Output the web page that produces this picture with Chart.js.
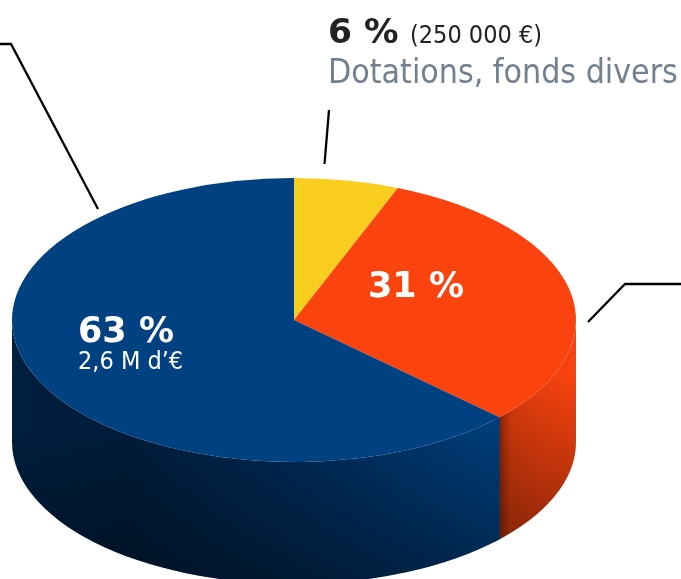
<!DOCTYPE html>
<html><head><meta charset="utf-8">
<style>html,body{margin:0;padding:0;background:#fff}#w{width:681px;height:579px;position:relative}canvas{display:block}</style>
<script src="https://cdn.jsdelivr.net/npm/chart.js@4/dist/chart.umd.min.js"></script>
</head><body><div id="w"><canvas id="c" width="681" height="579"></canvas></div>
<script>
const categories = ['Dotations, fonds divers', 'Part 31', 'Part 63'];
const shares = [6, 31, 63];
const sliceColors = ['#f9ce1f', '#fb430f', '#004182'];
const shareLabels = ['6 %', '31 %', '63 %'];
const amountLabels = ['(250 000 €)', '2,6 M d’€'];

const CENTER_Y = 320, SQUASH = 142 / 282, DEPTH = 122;
const FONT = '"DejaVu Sans", Verdana, sans-serif';
const FONT_NARROW = '"DejaVu Sans Condensed", "DejaVu Sans", sans-serif';

function sidePath(ctx, arc, a0, a1, ry) {
  ctx.beginPath();
  ctx.ellipse(arc.x, CENTER_Y, arc.outerRadius, ry, 0, a0, a1, false);
  ctx.ellipse(arc.x, CENTER_Y + DEPTH, arc.outerRadius, ry, 0, a1, a0, true);
  ctx.closePath();
}
function grad(ctx, x0, y0, x1, y1, stops) {
  const g = ctx.createLinearGradient(x0, y0, x1, y1);
  stops.forEach(s => g.addColorStop(s[0], s[1]));
  return g;
}
const pie3d = {
  id: 'pie3d',
  beforeDatasetsDraw(chart) {
    const ctx = chart.ctx;
    const arcs = chart.getDatasetMeta(0).data;
    const orange = arcs[1].getProps(['x','y','startAngle','endAngle','outerRadius'], true);
    const blue = arcs[2].getProps(['x','y','startAngle','endAngle','outerRadius'], true);
    const ry = orange.outerRadius * SQUASH;
    // orange wall (runs slightly under the blue wall so no seam shows)
    ctx.save();
    sidePath(ctx, orange, 0, orange.endAngle + 0.03, ry);
    ctx.clip();
    ctx.fillStyle = grad(ctx, 499, 0, 576, 0, [[0,'#d63b0c'],[0.5,'#ee400e'],[1,'#f9430f']]);
    ctx.fillRect(480, 300, 110, 279);
    ctx.fillStyle = grad(ctx, 0, 375, 0, 530, [[0,'rgba(0,0,0,0)'],[1,'rgba(0,0,0,0.36)']]);
    ctx.fillRect(480, 300, 110, 279);
    ctx.fillStyle = grad(ctx, 499, 0, 510, 0, [[0,'rgba(40,10,0,0.42)'],[1,'rgba(40,10,0,0)']]);
    ctx.fillRect(495, 300, 16, 279);
    ctx.restore();
    // blue wall
    ctx.save();
    sidePath(ctx, blue, blue.startAngle, Math.PI, ry);
    ctx.clip();
    ctx.fillStyle = grad(ctx, 12, 0, 499, 0, [[0,'#001e3d'],[0.25,'#001c3a'],[0.6,'#002a56'],[1,'#003d7a']]);
    ctx.fillRect(0, 300, 510, 279);
    ctx.fillStyle = grad(ctx, 0, 430, 0, 579, [[0,'rgba(0,0,0,0)'],[1,'rgba(0,0,0,0.38)']]);
    ctx.fillRect(0, 300, 510, 279);
    ctx.restore();
    // squash the library's round pie into the top face
    const cy = blue.y;
    ctx.save();
    ctx.translate(0, CENTER_Y);
    ctx.scale(1, SQUASH);
    ctx.translate(0, -cy);
  },
  afterDatasetsDraw(chart) {
    const ctx = chart.ctx;
    ctx.restore();
    // leader lines
    ctx.strokeStyle = '#000';
    ctx.lineWidth = 2.3;
    ctx.lineJoin = 'miter';
    [[[0,44],[11,44],[98,209]], [[329,110],[324.5,164]], [[588,322],[625,284],[681,284]]].forEach(l => {
      ctx.beginPath();
      l.forEach((p, i) => i ? ctx.lineTo(p[0], p[1]) : ctx.moveTo(p[0], p[1]));
      ctx.stroke();
    });
    // labels
    ctx.textBaseline = 'alphabetic';
    ctx.textAlign = 'left';
    const t = (s, x, y, font, fam, col) => { ctx.font = font + ' ' + fam; ctx.fillStyle = col; ctx.fillText(s, x, y); };
    t(shareLabels[0], 328, 43, 'bold 34.5px', FONT, '#222222');
    t(amountLabels[0], 410, 43, '25px', FONT_NARROW, '#222222');
    t(categories[0], 328, 83, '33.6px', FONT_NARROW, '#72808f');
    t(shareLabels[1], 368, 297, 'bold 35px', FONT, '#ffffff');
    t(shareLabels[2], 78, 342, 'bold 35px', FONT, '#ffffff');
    t(amountLabels[1], 78, 369, '25px', FONT_NARROW, '#ffffff');
  }
};
new Chart(document.getElementById('c'), {
  type: 'pie',
  data: { labels: categories, datasets: [{ data: shares, backgroundColor: sliceColors, borderWidth: 0, clip: false }] },
  options: {
    responsive: false, animation: false,
    layout: { padding: { left: 12, right: 105, top: 7.5, bottom: 7.5 } },
    plugins: { legend: { display: false }, tooltip: { enabled: false } }
  },
  plugins: [pie3d]
});
</script></body></html>
